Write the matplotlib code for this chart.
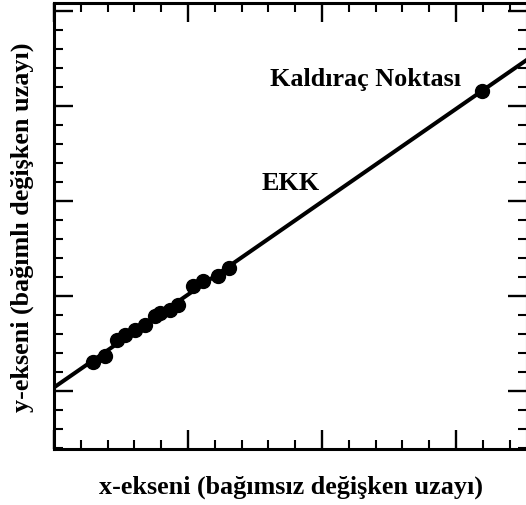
import matplotlib
matplotlib.use("Agg")
import matplotlib.pyplot as plt
from matplotlib.ticker import MultipleLocator

# Observations clustered at low x, plus one far-out leverage point
x_obs = [1.46, 1.90, 2.35, 2.65, 3.02, 3.40, 3.77, 3.96, 4.33, 4.63, 5.19, 5.56, 6.12, 6.53, 15.97]
y_obs = [1.53, 1.84, 2.68, 2.95, 3.21, 3.47, 3.95, 4.11, 4.26, 4.53, 5.53, 5.79, 6.05, 6.47, 15.79]

# Least-squares (EKK) line
ekk_intercept = 0.19
ekk_slope = 0.977

x_label = "x-ekseni (bağımsız değişken uzayı)"
y_label = "y-ekseni (bağımlı değişken uzayı)"
leverage_label = "Kaldıraç Noktası"
line_label = "EKK"

serif = ["Liberation Serif", "DejaVu Serif"]
text_size = 18.8

fig = plt.figure(figsize=(5.26, 5.06), dpi=100)
ax = fig.add_axes([54 / 526, 56 / 506, 473 / 526, 446 / 506])

x0, x1 = 0.0, 17.65
ax.set_xlim(x0, x1)
ax.set_ylim(-3.05, 20.42)

ax.plot([x0, x1], [ekk_intercept + ekk_slope * x0, ekk_intercept + ekk_slope * x1],
        color="black", lw=2.9, solid_capstyle="butt", zorder=2)
ax.plot(x_obs, y_obs, "o", color="black", markersize=10, zorder=3)

ax.text(11.62, 16.45, leverage_label, fontsize=text_size, fontweight="bold",
        family=serif, ha="center", va="center")
ax.text(8.82, 11.0, line_label, fontsize=text_size, fontweight="bold",
        family=serif, ha="center", va="center")

ax.xaxis.set_major_locator(MultipleLocator(5))
ax.xaxis.set_minor_locator(MultipleLocator(1))
ax.yaxis.set_major_locator(MultipleLocator(5))
ax.yaxis.set_minor_locator(MultipleLocator(1))
ax.tick_params(which="both", direction="in", top=True, right=True,
               labelbottom=False, labelleft=False, color="black")
ax.tick_params(which="major", length=14, width=1.7)
ax.tick_params(which="minor", length=6.5, width=1.5)

for side in ax.spines.values():
    side.set_linewidth(2.2)

fig.text(291 / 526, 1 - 487 / 506, x_label, fontsize=text_size, fontweight="bold",
         family=serif, ha="center", va="center")
fig.text(22 / 526, 1 - 227 / 506, y_label, fontsize=text_size, fontweight="bold",
         family=serif, ha="center", va="center", rotation=90)

fig.savefig("out.png", dpi=100)
